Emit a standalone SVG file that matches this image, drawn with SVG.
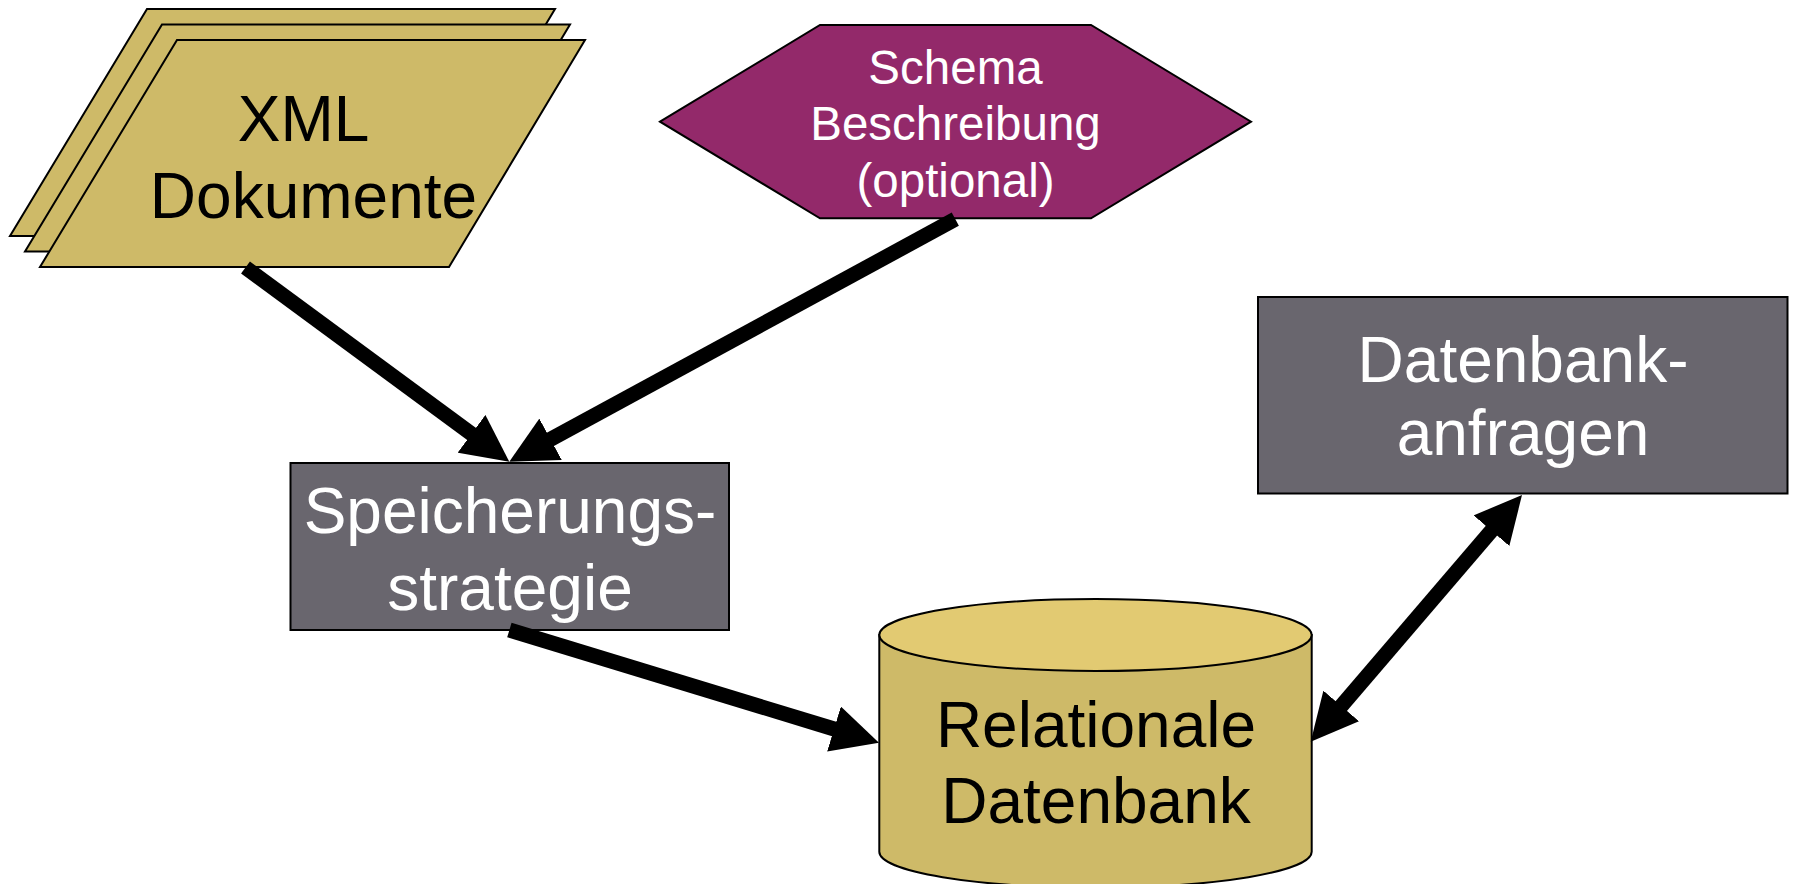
<svg xmlns="http://www.w3.org/2000/svg" width="1794" height="884" viewBox="0 0 1794 884">
  <style>
    .doc { fill: #CEBA68; stroke: #000; stroke-width: 2; stroke-linejoin: miter; }
    .proc { fill: #69666E; stroke: #000; stroke-width: 2; }
    .schema { fill: #93296A; stroke: #000; stroke-width: 2; }
    .db-body { fill: #CEBA68; stroke: #000; stroke-width: 2; }
    .db-top { fill: #E2CA72; stroke: #000; stroke-width: 2; }
    .label { font-family: "Liberation Sans", Arial, sans-serif; font-size: 64px; text-anchor: middle; }
    .small { font-size: 47.5px; }
    .dark { fill: #000; }
    .light { fill: #fff; }
    .flow { fill: none; stroke: #000; stroke-width: 15; stroke-linecap: butt; }
  </style>
  <defs>
    <marker id="head" markerUnits="userSpaceOnUse" viewBox="0 0 47 47" markerWidth="47" markerHeight="47" refX="7" refY="23.5" orient="auto-start-reverse">
      <path d="M0,0 L47,23.5 L0,47 Z" fill="#000"/>
    </marker>
  </defs>

  <rect width="1794" height="884" fill="#fff"/>

  <!-- stacked documents -->
  <g id="xml-dokumente">
    <polygon class="doc" points="147,9 555,9 419,236 10,236"/>
    <polygon class="doc" points="162,24.5 570,24.5 434,251.5 25,251.5"/>
    <polygon class="doc" points="177,40 585,40 449,267 40,267"/>
    <text class="label dark" x="303.5" y="140.5">XML</text>
    <text class="label dark" x="313.5" y="217.5">Dokumente</text>
  </g>

  <!-- optional schema -->
  <g id="schema-beschreibung">
    <polygon class="schema" points="660,121.7 820,25 1091,25 1251,121.7 1091,218.3 820,218.3"/>
    <text class="label small light" x="955.5" y="83.5">Schema</text>
    <text class="label small light" x="955.5" y="140">Beschreibung</text>
    <text class="label small light" x="955.5" y="196.5">(optional)</text>
  </g>

  <!-- mapping strategy -->
  <g id="speicherungsstrategie">
    <rect class="proc" x="290.5" y="463" width="438.5" height="167"/>
    <text class="label light" x="510" y="533">Speicherungs-</text>
    <text class="label light" x="510" y="610">strategie</text>
  </g>

  <!-- relational database -->
  <g id="relationale-datenbank">
    <path class="db-body" d="M879.3,635 L879.3,851.7 A216.2,36 0 0 0 1311.7,851.7 L1311.7,635 Z"/>
    <ellipse class="db-top" cx="1095.5" cy="635" rx="216.2" ry="36"/>
    <text class="label dark" x="1096" y="746.5">Relationale</text>
    <text class="label dark" x="1096" y="823">Datenbank</text>
  </g>

  <!-- queries -->
  <g id="datenbankanfragen">
    <rect class="proc" x="1258" y="297" width="529.5" height="196.5"/>
    <text class="label light" x="1523" y="381.5">Datenbank-</text>
    <text class="label light" x="1523" y="455">anfragen</text>
  </g>

  <!-- connectors -->
  <g id="connectors">
    <line class="flow" x1="245.5" y1="267.5" x2="477.1" y2="438" marker-end="url(#head)"/>
    <line class="flow" x1="955.3" y1="219.2" x2="544.4" y2="442.6" marker-end="url(#head)"/>
    <line class="flow" x1="509.4" y1="630" x2="840.7" y2="731" marker-end="url(#head)"/>
    <line class="flow" x1="1336.7" y1="711.3" x2="1496" y2="525.4" marker-start="url(#head)" marker-end="url(#head)"/>
  </g>
</svg>
